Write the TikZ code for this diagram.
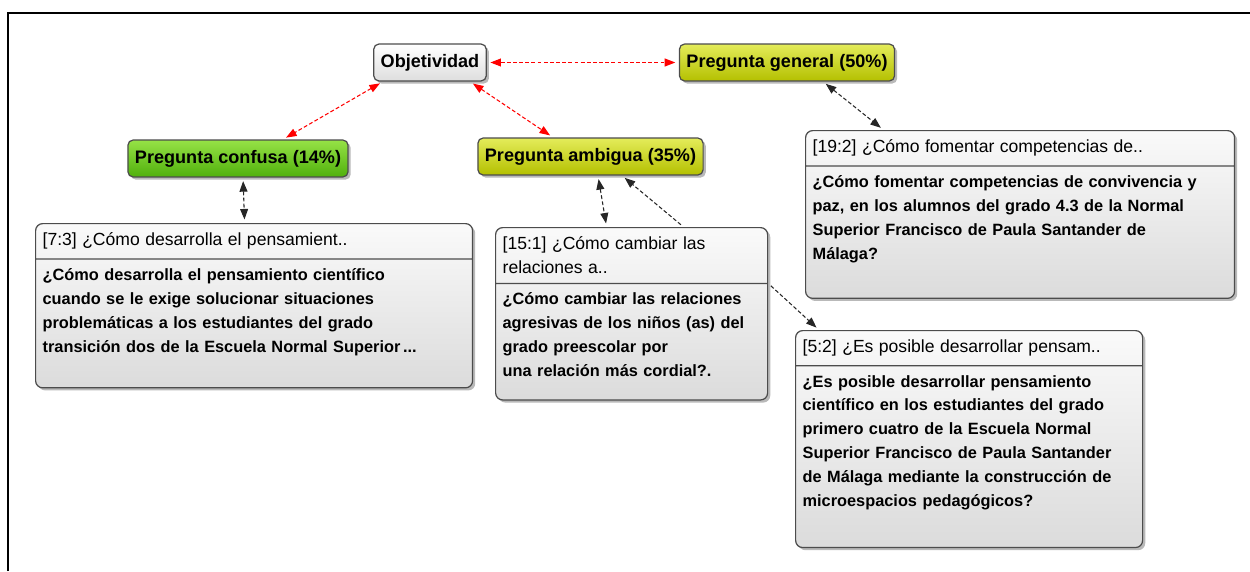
\documentclass[tikz,border=0pt]{standalone}
\usepackage{fontspec}
\setmainfont{Liberation Sans}
\usetikzlibrary{shapes.multipart,shadows,arrows.meta}

\begin{document}
\begin{tikzpicture}[x=0.02cm, y=-0.02cm,
        cat/.style = {draw=black!70, line width=0.7pt, rounded corners=3pt,
            minimum height=0.74cm, inner xsep=4pt,
            font=\fontsize{10.3}{12}\selectfont\bfseries,
            drop shadow={shadow xshift=1.5pt, shadow yshift=-1.5pt, fill=black!55}},
        catgrey/.style = {cat, top color=white, bottom color=black!13},
        catgreen/.style = {cat, top color={rgb,255:red,150;green,226;blue,70},
            bottom color={rgb,255:red,80;green,176;blue,12}},
        catyellow/.style = {cat, top color={rgb,255:red,228;green,236;blue,90},
            bottom color={rgb,255:red,180;green,192;blue,0}},
        quote/.style = {rectangle split, rectangle split parts=2,
            draw=black!70, line width=0.7pt, rounded corners=4pt,
            anchor=north west, align=left, inner xsep=4pt, inner ysep=5pt,
            top color=black!2, bottom color=black!14,
            font=\fontsize{9.3}{13.6}\selectfont,
            drop shadow={shadow xshift=1.5pt, shadow yshift=-1.5pt, fill=black!55}},
        redlink/.style = {draw=red, line width=0.6pt, dash pattern=on 2.2pt off 1.3pt,
            {Triangle[length=6pt,width=4.5pt]}-{Triangle[length=6pt,width=4.5pt]},
            shorten >=2pt, shorten <=2pt},
        blacklink/.style = {redlink, draw=black!85},
        blackto/.style = {blacklink, -{Triangle[length=6pt,width=4.5pt]}},
    ]
    \useasboundingbox (0,0) rectangle (1250,571);

    % Frame
    \draw[line width=1.2pt] (8,571) -- (8,13) -- (1250,13);

    % Codes
    \node[catgrey] (obj) at (430,62.5) {Objetividad};
    \node[catyellow] (gen) at (787,62.5) {Pregunta general (50\%)};
    \node[catgreen] (conf) at (238,158.5) {Pregunta confusa (14\%)};
    \node[catyellow] (amb) at (590.5,156.5) {Pregunta ambigua (35\%)};

    % Quotations
    \node[quote, text width=8.46cm] (b73) at (35,223)
        {{\fontsize{10}{13.6}\selectfont [7:3] ¿Cómo desarrolla el pensamient..}
        \nodepart{two}\bfseries ¿Cómo desarrolla el pensamiento científico\\
        cuando se le exige solucionar situaciones\\
        problemáticas a los estudiantes del grado\\
        transición dos de la Escuela Normal Superior\,...\rule[-15pt]{0pt}{15pt}};

    \node[quote, text width=5.16cm] (b151) at (495,227)
        {{\fontsize{10}{13.6}\selectfont [15:1] ¿Cómo cambiar las\\relaciones a..}
        \nodepart{two}\bfseries ¿Cómo cambiar las relaciones\\
        agresivas de los niños (as) del\\
        grado preescolar por\\
        una relación más cordial?.\rule[-8pt]{0pt}{8pt}};

    \node[quote, text width=8.3cm] (b192) at (805,130)
        {{\fontsize{10}{13.6}\selectfont [19:2] ¿Cómo fomentar competencias de..}
        \nodepart{two}\bfseries ¿Cómo fomentar competencias de convivencia y\\
        paz, en los alumnos del grado 4.3 de la Normal\\
        Superior Francisco de Paula Santander de\\
        Málaga?\rule[-17pt]{0pt}{17pt}};

    \node[quote, text width=6.66cm] (b52) at (795,330)
        {{\fontsize{10}{13.6}\selectfont [5:2] ¿Es posible desarrollar pensam..}
        \nodepart{two}\bfseries ¿Es posible desarrollar pensamiento\\
        científico en los estudiantes del grado\\
        primero cuatro de la Escuela Normal\\
        Superior Francisco de Paula Santander\\
        de Málaga mediante la construcción de\\
        microespacios pedagógicos?\rule[-18pt]{0pt}{18pt}};

    % Links between codes
    \draw[redlink] (obj.east) -- (gen.west);
    \draw[redlink] ([xshift=-0.94cm]obj.south) -- ([xshift=0.9cm]conf.north);
    \draw[redlink] ([xshift=0.8cm]obj.south) -- ([xshift=-0.75cm]amb.north);

    % Links to quotations
    \draw[blacklink] ([xshift=0.72cm]gen.south) -- ([xshift=-2.73cm]b192.north);
    \draw[blacklink] ([xshift=0.1cm]conf.south) -- ([xshift=-0.19cm]b73.north);
    \draw[blacklink] ([xshift=0.15cm]amb.south) -- ([xshift=-0.5cm]b151.north);
    \draw[blackto] ([xshift=1.04cm]b151.north) -- ([xshift=0.63cm]amb.south);
    \draw[blackto] (b151.one split east) -- ([xshift=-3cm]b52.north);

\end{tikzpicture}
\end{document}
